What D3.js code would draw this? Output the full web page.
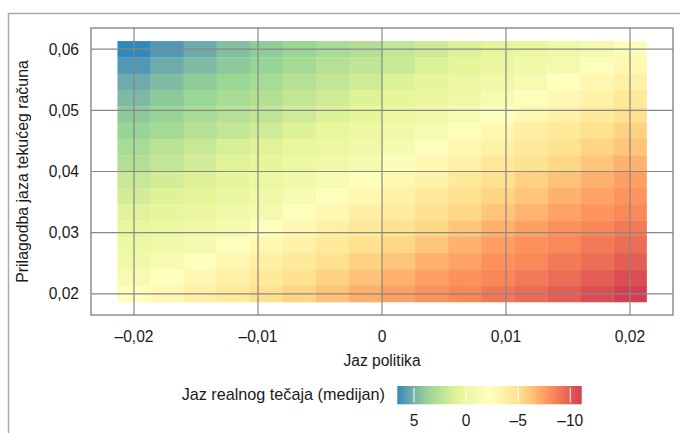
<!DOCTYPE html>
<html>
<head>
<meta charset="utf-8">
<script src="https://cdn.jsdelivr.net/npm/d3@7"></script>
<style>
  body { margin: 0; background: #fff; }
  svg text { font-family: "Liberation Sans", Arial, sans-serif; fill: #1a1a1a; }
</style>
</head>
<body>
<svg id="chart" width="680" height="433"></svg>
<script>
// policy gap (x) and current account gap adjustment (y) grid
const policyGap = [-0.02, -0.01733, -0.01467, -0.012, -0.00933, -0.00667, -0.004, -0.00133,
                   0.00133, 0.004, 0.00667, 0.00933, 0.012, 0.01467, 0.01733, 0.02];
// rows top -> bottom
const caAdjust = [0.06, 0.05733, 0.05467, 0.052, 0.04933, 0.04667, 0.044, 0.04133,
                  0.03867, 0.036, 0.03333, 0.03067, 0.028, 0.02533, 0.02267, 0.02];
// median real exchange rate gap, one row per caAdjust value
const medianGap = [
  [6.6, 6.0, 5.2, 4.5, 4.0, 3.6, 3.1, 2.7, 2.1, 1.7, 1.1, 0.7, 0.2, -0.3, -0.9, -1.8],
  [6.0, 5.2, 4.6, 4.1, 3.7, 3.2, 2.6, 2.2, 1.8, 1.1, 0.6, 0.1, -0.4, -0.9, -2.0, -3.0],
  [5.2, 4.6, 4.0, 3.6, 3.1, 2.6, 2.1, 1.6, 1.0, 0.5, 0.0, -0.5, -1.2, -2.2, -3.0, -3.6],
  [4.7, 4.1, 3.6, 3.1, 2.7, 2.1, 1.6, 1.0, 0.5, 0.1, -0.3, -1.1, -2.0, -2.8, -3.5, -4.3],
  [4.1, 3.7, 3.1, 2.6, 2.2, 1.6, 1.0, 0.5, 0.0, -0.5, -1.1, -2.0, -3.0, -3.6, -4.3, -5.0],
  [3.7, 3.2, 2.6, 2.1, 1.6, 1.0, 0.4, -0.1, -0.6, -1.1, -2.0, -3.0, -3.8, -4.3, -5.0, -5.7],
  [3.1, 2.4, 1.9, 1.3, 0.9, 0.4, 0.0, -0.5, -1.0, -2.1, -3.0, -3.6, -4.3, -4.9, -5.6, -6.2],
  [2.7, 2.1, 1.5, 0.9, 0.5, -0.1, -0.5, -1.0, -1.8, -3.0, -3.6, -4.4, -4.9, -5.5, -6.2, -6.9],
  [1.9, 1.5, 1.0, 0.5, 0.0, -0.5, -1.1, -2.0, -2.9, -3.5, -4.3, -5.0, -5.7, -6.3, -6.9, -7.5],
  [1.5, 1.0, 0.6, 0.1, -0.4, -1.1, -2.0, -3.0, -3.6, -4.3, -5.0, -5.6, -6.2, -6.9, -7.4, -7.9],
  [0.9, 0.5, 0.1, -0.4, -0.9, -2.0, -3.0, -3.8, -4.2, -5.0, -5.5, -6.2, -6.8, -7.4, -7.9, -8.3],
  [0.3, 0.0, -0.5, -1.0, -2.0, -3.0, -3.7, -4.4, -5.0, -5.5, -6.2, -6.9, -7.5, -8.0, -8.4, -8.9],
  [-0.1, -0.5, -1.0, -2.0, -3.0, -3.6, -4.3, -5.0, -5.5, -6.2, -6.9, -7.5, -8.0, -8.3, -8.9, -9.4],
  [-0.5, -1.2, -2.1, -3.0, -3.7, -4.3, -5.0, -5.7, -6.2, -6.9, -7.4, -8.0, -8.3, -8.9, -9.4, -10.0],
  [-1.2, -2.2, -3.0, -3.6, -4.3, -5.0, -5.7, -6.3, -6.9, -7.5, -8.0, -8.4, -8.9, -9.4, -10.0, -10.6],
  [-2.0, -3.0, -3.7, -4.3, -5.0, -5.6, -6.3, -7.0, -7.5, -8.0, -8.4, -9.0, -9.5, -10.0, -10.6, -11.1]
];
const xTicks = [-0.02, -0.01, 0, 0.01, 0.02];
const yTicks = [0.02, 0.03, 0.04, 0.05, 0.06];
const legendTicks = [5, 0, -5, -10];
const palette = ["#3288BD", "#99D594", "#E6F598", "#FFFFBF", "#FEE08B", "#FC8D59", "#D53E4F"];

const locale = d3.formatLocale({ decimal: ",", thousands: ".", grouping: [3], currency: ["", ""], minus: "\u2013" });
const f2 = locale.format(".2f");
const f0 = locale.format("d");

const cells = [];
medianGap.forEach((row, i) => {
  row.forEach((v, j) => cells.push({ x: policyGap[j], y: caAdjust[i], v: v }));
});

const svg = d3.select("#chart");

// tile size from grid spacing, domain expanded 5% like ggplot
const dx = policyGap[1] - policyGap[0];
const dy = caAdjust[0] - caAdjust[1];
const xExt = [d3.min(policyGap) - dx / 2, d3.max(policyGap) + dx / 2];
const yExt = [d3.min(caAdjust) - dy / 2, d3.max(caAdjust) + dy / 2];
const xPad = (xExt[1] - xExt[0]) * 0.05;
const yPad = (yExt[1] - yExt[0]) * 0.05;

const x = d3.scaleLinear().domain([xExt[0] - xPad, xExt[1] + xPad]).range([91, 673]);
const y = d3.scaleLinear().domain([yExt[0] - yPad, yExt[1] + yPad]).range([315, 28]);

const vExt = d3.extent(cells, d => d.v);
const stops = palette.map((c, i) => vExt[1] - i * (vExt[1] - vExt[0]) / (palette.length - 1));
const color = d3.scaleLinear().domain(stops).range(palette).interpolate(d3.interpolateLab);

// outer figure frame
svg.append("path")
  .attr("d", "M8.5,433V13.5H680")
  .attr("fill", "none")
  .attr("stroke", "#ababab")
  .attr("stroke-width", 1.5);

// tiles
svg.append("g").selectAll("rect")
  .data(cells)
  .join("rect")
  .attr("x", d => x(d.x - dx / 2))
  .attr("y", d => y(d.y + dy / 2))
  .attr("width", d => x(d.x + dx / 2) - x(d.x - dx / 2) + 0.3)
  .attr("height", d => y(d.y - dy / 2) - y(d.y + dy / 2) + 0.3)
  .attr("fill", d => color(d.v));

// grid on top
const grid = svg.append("g").attr("stroke", "#878787").attr("stroke-width", 1.2);
grid.selectAll(".vx").data(xTicks).join("line")
  .attr("x1", d => x(d)).attr("x2", d => x(d))
  .attr("y1", y.range()[0]).attr("y2", y.range()[1]);
grid.selectAll(".hy").data(yTicks).join("line")
  .attr("x1", x.range()[0]).attr("x2", x.range()[1])
  .attr("y1", d => y(d)).attr("y2", d => y(d));

svg.append("rect")
  .attr("x", x.range()[0]).attr("y", y.range()[1])
  .attr("width", x.range()[1] - x.range()[0])
  .attr("height", y.range()[0] - y.range()[1])
  .attr("fill", "none")
  .attr("stroke", "#878787")
  .attr("stroke-width", 1.4);

// axes labels
const fs = "15.6px";
svg.append("g").selectAll("text").data(yTicks).join("text")
  .attr("x", 79).attr("y", d => y(d)).attr("dy", "0.36em")
  .attr("text-anchor", "end").style("font-size", fs)
  .text(d => f2(d));

svg.append("g").selectAll("text").data(xTicks).join("text")
  .attr("x", d => x(d)).attr("y", 341.5)
  .attr("text-anchor", "middle").style("font-size", fs)
  .text(d => d === 0 ? "0" : f2(d));

svg.append("text")
  .attr("x", (x.range()[0] + x.range()[1]) / 2).attr("y", 366)
  .attr("text-anchor", "middle").style("font-size", fs)
  .text("Jaz politika");

svg.append("text")
  .attr("transform", `translate(28,${(y.range()[0] + y.range()[1]) / 2}) rotate(-90)`)
  .attr("text-anchor", "middle").style("font-size", "15.9px")
  .text("Prilagodba jaza tekućeg računa");

// legend
const lx = d3.scaleLinear().domain([vExt[1], vExt[0]]).range([397.3, 581.7]);
const defs = svg.append("defs");
const grad = defs.append("linearGradient").attr("id", "lg");
d3.range(0, 1.0001, 0.05).forEach(t => {
  grad.append("stop").attr("offset", t).attr("stop-color", color(lx.invert(397.3 + t * (581.7 - 397.3))));
});
svg.append("rect")
  .attr("x", lx.range()[0]).attr("y", 386)
  .attr("width", lx.range()[1] - lx.range()[0]).attr("height", 18.3)
  .attr("fill", "url(#lg)");
svg.append("g").selectAll("line").data(legendTicks).join("line")
  .attr("x1", d => lx(d)).attr("x2", d => lx(d))
  .attr("y1", 388).attr("y2", 402.5)
  .attr("stroke", "#fff").attr("stroke-width", 1);
svg.append("g").selectAll("text").data(legendTicks).join("text")
  .attr("x", d => lx(d)).attr("y", 426)
  .attr("text-anchor", "middle").style("font-size", fs)
  .text(d => f0(d));
svg.append("text")
  .attr("x", 385).attr("y", 400)
  .attr("text-anchor", "end").style("font-size", "16.2px")
  .text("Jaz realnog tečaja (medijan)");
</script>
</body>
</html>
